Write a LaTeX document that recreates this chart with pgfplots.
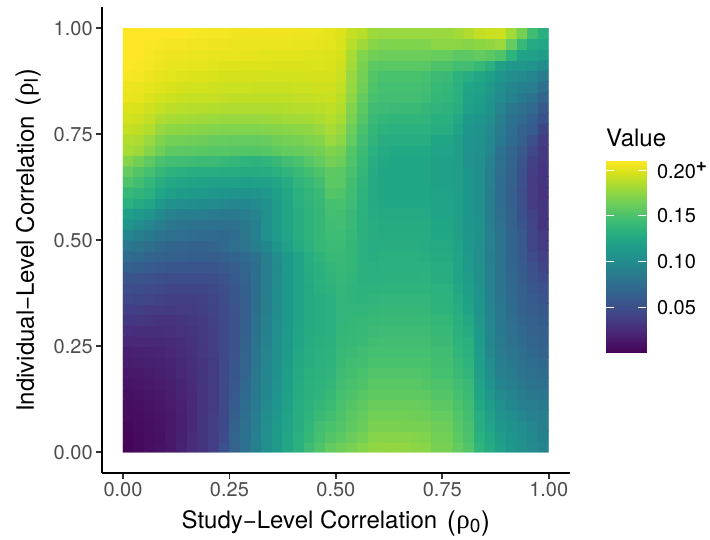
\documentclass[border=0pt]{standalone}
\usepackage{fontspec}
\setmainfont{TeX Gyre Heros}
\newfontfamily\grk{Liberation Serif}
\usepackage{pgfplots}
\usepackage{pgfplotstable}
\pgfplotsset{compat=1.18}
\definecolor{ticktxt}{HTML}{4D4D4D}
\definecolor{tickln}{HTML}{333333}
\newcommand{\fa}{\fontsize{20}{24}\selectfont}
\newcommand{\fb}{\fontsize{24}{28}\selectfont}
\newcommand{\bigp}[1]{{\fontsize{27}{27}\selectfont\raisebox{-1.5pt}{#1}}}
\newcommand{\rhosub}[1]{\kern0.6pt{\fontsize{27}{27}\selectfont\grk ρ}\raisebox{-4pt}{\fontsize{19}{19}\selectfont #1}\kern0.6pt}
% values in thousandths, read from the colours, row by row from the bottom
\pgfplotstableread[row sep=crcr]{
v\\
2\\ 5\\ 7\\ 10\\ 13\\ 19\\ 26\\ 31\\ 38\\ 52\\ 66\\ 79\\ 92\\ 105\\ 114\\ 125\\ 132\\ 144\\ 152\\ 160\\ 164\\ 167\\ 172\\ 175\\ 176\\ 176\\ 176\\ 174\\ 173\\ 167\\ 167\\ 160\\ 153\\ 137\\ 128\\ 118\\ 112\\ 106\\ 100\\ 95\\
3\\ 5\\ 7\\ 9\\ 13\\ 18\\ 26\\ 31\\ 38\\ 47\\ 67\\ 79\\ 91\\ 105\\ 114\\ 124\\ 132\\ 140\\ 148\\ 154\\ 157\\ 162\\ 166\\ 172\\ 172\\ 172\\ 172\\ 171\\ 170\\ 165\\ 165\\ 157\\ 151\\ 133\\ 126\\ 116\\ 110\\ 105\\ 99\\ 92\\
4\\ 6\\ 8\\ 10\\ 14\\ 18\\ 25\\ 31\\ 38\\ 46\\ 65\\ 78\\ 90\\ 103\\ 113\\ 122\\ 131\\ 138\\ 146\\ 150\\ 153\\ 158\\ 162\\ 168\\ 168\\ 168\\ 167\\ 167\\ 167\\ 163\\ 163\\ 155\\ 149\\ 131\\ 122\\ 112\\ 106\\ 102\\ 96\\ 90\\
6\\ 7\\ 9\\ 11\\ 14\\ 18\\ 25\\ 31\\ 38\\ 46\\ 62\\ 76\\ 88\\ 102\\ 112\\ 122\\ 131\\ 136\\ 142\\ 146\\ 151\\ 156\\ 160\\ 165\\ 165\\ 165\\ 165\\ 164\\ 164\\ 160\\ 160\\ 153\\ 147\\ 130\\ 120\\ 108\\ 102\\ 96\\ 92\\ 88\\
7\\ 8\\ 10\\ 12\\ 15\\ 19\\ 25\\ 31\\ 37\\ 46\\ 60\\ 74\\ 86\\ 100\\ 110\\ 120\\ 130\\ 135\\ 139\\ 143\\ 150\\ 154\\ 158\\ 162\\ 162\\ 162\\ 162\\ 162\\ 161\\ 157\\ 157\\ 151\\ 145\\ 126\\ 116\\ 104\\ 98\\ 92\\ 88\\ 85\\
9\\ 10\\ 12\\ 13\\ 16\\ 20\\ 25\\ 31\\ 37\\ 46\\ 58\\ 72\\ 85\\ 98\\ 109\\ 119\\ 129\\ 134\\ 137\\ 141\\ 148\\ 151\\ 155\\ 158\\ 158\\ 158\\ 158\\ 158\\ 158\\ 154\\ 154\\ 148\\ 143\\ 124\\ 112\\ 100\\ 94\\ 87\\ 84\\ 82\\
11\\ 12\\ 13\\ 15\\ 17\\ 21\\ 26\\ 31\\ 37\\ 46\\ 57\\ 70\\ 84\\ 97\\ 108\\ 118\\ 128\\ 133\\ 136\\ 139\\ 146\\ 149\\ 152\\ 156\\ 156\\ 156\\ 156\\ 156\\ 154\\ 151\\ 151\\ 146\\ 142\\ 122\\ 108\\ 95\\ 90\\ 84\\ 80\\ 78\\
13\\ 14\\ 15\\ 17\\ 19\\ 23\\ 27\\ 31\\ 37\\ 46\\ 56\\ 68\\ 83\\ 96\\ 107\\ 117\\ 127\\ 132\\ 135\\ 137\\ 144\\ 147\\ 150\\ 153\\ 153\\ 153\\ 153\\ 153\\ 152\\ 148\\ 148\\ 143\\ 138\\ 120\\ 105\\ 91\\ 87\\ 80\\ 77\\ 74\\
16\\ 17\\ 18\\ 19\\ 21\\ 24\\ 28\\ 32\\ 37\\ 46\\ 55\\ 67\\ 82\\ 95\\ 106\\ 116\\ 126\\ 131\\ 134\\ 136\\ 142\\ 145\\ 147\\ 150\\ 150\\ 150\\ 150\\ 150\\ 150\\ 147\\ 147\\ 141\\ 136\\ 118\\ 102\\ 89\\ 84\\ 78\\ 74\\ 70\\
18\\ 19\\ 20\\ 21\\ 23\\ 26\\ 29\\ 33\\ 38\\ 46\\ 54\\ 66\\ 81\\ 94\\ 105\\ 115\\ 125\\ 130\\ 133\\ 135\\ 141\\ 143\\ 145\\ 148\\ 148\\ 148\\ 148\\ 148\\ 148\\ 145\\ 145\\ 138\\ 134\\ 116\\ 99\\ 87\\ 82\\ 75\\ 71\\ 66\\
23\\ 23\\ 23\\ 24\\ 25\\ 27\\ 30\\ 34\\ 38\\ 46\\ 54\\ 65\\ 80\\ 93\\ 104\\ 114\\ 124\\ 129\\ 132\\ 134\\ 140\\ 141\\ 143\\ 145\\ 146\\ 146\\ 146\\ 146\\ 146\\ 143\\ 143\\ 136\\ 132\\ 115\\ 98\\ 86\\ 80\\ 73\\ 68\\ 64\\
28\\ 27\\ 27\\ 27\\ 28\\ 30\\ 32\\ 35\\ 39\\ 46\\ 54\\ 64\\ 79\\ 92\\ 103\\ 113\\ 123\\ 128\\ 131\\ 133\\ 139\\ 140\\ 141\\ 143\\ 144\\ 144\\ 144\\ 144\\ 144\\ 141\\ 141\\ 134\\ 129\\ 113\\ 97\\ 85\\ 78\\ 70\\ 66\\ 63\\
34\\ 33\\ 32\\ 30\\ 30\\ 31\\ 34\\ 37\\ 41\\ 47\\ 54\\ 63\\ 78\\ 91\\ 102\\ 113\\ 122\\ 127\\ 131\\ 133\\ 138\\ 139\\ 140\\ 141\\ 142\\ 142\\ 142\\ 142\\ 142\\ 139\\ 139\\ 132\\ 126\\ 112\\ 96\\ 84\\ 76\\ 68\\ 64\\ 60\\
39\\ 38\\ 37\\ 36\\ 35\\ 36\\ 37\\ 39\\ 42\\ 47\\ 54\\ 63\\ 77\\ 90\\ 102\\ 113\\ 122\\ 127\\ 131\\ 133\\ 138\\ 138\\ 138\\ 139\\ 140\\ 140\\ 140\\ 140\\ 140\\ 136\\ 136\\ 130\\ 122\\ 110\\ 95\\ 83\\ 74\\ 66\\ 62\\ 58\\
45\\ 44\\ 43\\ 41\\ 39\\ 39\\ 39\\ 41\\ 44\\ 49\\ 55\\ 63\\ 76\\ 90\\ 102\\ 113\\ 122\\ 127\\ 131\\ 133\\ 138\\ 137\\ 136\\ 137\\ 138\\ 138\\ 138\\ 138\\ 138\\ 135\\ 135\\ 128\\ 120\\ 109\\ 93\\ 82\\ 73\\ 64\\ 60\\ 55\\
50\\ 48\\ 47\\ 45\\ 43\\ 43\\ 43\\ 44\\ 46\\ 50\\ 56\\ 64\\ 75\\ 89\\ 102\\ 113\\ 122\\ 127\\ 132\\ 135\\ 139\\ 137\\ 135\\ 135\\ 136\\ 136\\ 136\\ 136\\ 136\\ 133\\ 133\\ 126\\ 118\\ 108\\ 92\\ 80\\ 71\\ 63\\ 57\\ 51\\
56\\ 54\\ 52\\ 50\\ 48\\ 48\\ 48\\ 48\\ 50\\ 54\\ 59\\ 65\\ 75\\ 88\\ 102\\ 113\\ 122\\ 128\\ 133\\ 137\\ 140\\ 138\\ 134\\ 133\\ 134\\ 134\\ 134\\ 134\\ 135\\ 131\\ 131\\ 124\\ 116\\ 106\\ 92\\ 80\\ 70\\ 62\\ 54\\ 47\\
64\\ 62\\ 60\\ 58\\ 56\\ 56\\ 55\\ 55\\ 55\\ 58\\ 62\\ 68\\ 76\\ 88\\ 101\\ 113\\ 122\\ 129\\ 134\\ 139\\ 141\\ 139\\ 134\\ 132\\ 133\\ 133\\ 133\\ 133\\ 133\\ 130\\ 130\\ 123\\ 114\\ 106\\ 91\\ 80\\ 69\\ 60\\ 51\\ 43\\
72\\ 70\\ 68\\ 66\\ 64\\ 63\\ 62\\ 62\\ 62\\ 64\\ 68\\ 72\\ 79\\ 90\\ 102\\ 113\\ 122\\ 130\\ 136\\ 141\\ 142\\ 139\\ 133\\ 131\\ 132\\ 132\\ 132\\ 132\\ 131\\ 128\\ 128\\ 122\\ 113\\ 105\\ 90\\ 80\\ 68\\ 59\\ 47\\ 40\\
84\\ 80\\ 76\\ 70\\ 68\\ 67\\ 66\\ 66\\ 67\\ 70\\ 76\\ 82\\ 90\\ 98\\ 110\\ 120\\ 128\\ 134\\ 140\\ 143\\ 143\\ 139\\ 133\\ 130\\ 131\\ 131\\ 131\\ 131\\ 129\\ 127\\ 127\\ 121\\ 112\\ 105\\ 91\\ 80\\ 68\\ 58\\ 44\\ 37\\
96\\ 90\\ 85\\ 80\\ 77\\ 75\\ 74\\ 73\\ 72\\ 71\\ 74\\ 83\\ 92\\ 104\\ 115\\ 122\\ 130\\ 136\\ 140\\ 144\\ 144\\ 140\\ 134\\ 131\\ 129\\ 129\\ 129\\ 129\\ 129\\ 125\\ 125\\ 119\\ 111\\ 106\\ 91\\ 80\\ 68\\ 58\\ 44\\ 36\\
110\\ 102\\ 96\\ 88\\ 83\\ 80\\ 79\\ 78\\ 78\\ 78\\ 78\\ 85\\ 92\\ 105\\ 115\\ 124\\ 131\\ 136\\ 140\\ 145\\ 146\\ 142\\ 134\\ 130\\ 128\\ 128\\ 128\\ 128\\ 128\\ 124\\ 124\\ 118\\ 110\\ 106\\ 90\\ 78\\ 66\\ 56\\ 42\\ 32\\
120\\ 114\\ 109\\ 100\\ 93\\ 90\\ 89\\ 88\\ 87\\ 86\\ 86\\ 88\\ 94\\ 105\\ 115\\ 124\\ 131\\ 136\\ 140\\ 146\\ 147\\ 142\\ 134\\ 129\\ 127\\ 127\\ 127\\ 127\\ 127\\ 122\\ 122\\ 117\\ 110\\ 105\\ 90\\ 76\\ 65\\ 52\\ 41\\ 31\\
133\\ 127\\ 123\\ 113\\ 106\\ 103\\ 102\\ 101\\ 100\\ 99\\ 97\\ 97\\ 100\\ 106\\ 115\\ 124\\ 132\\ 137\\ 141\\ 148\\ 149\\ 144\\ 135\\ 127\\ 125\\ 125\\ 125\\ 125\\ 125\\ 122\\ 122\\ 117\\ 110\\ 104\\ 89\\ 74\\ 63\\ 50\\ 36\\ 31\\
141\\ 137\\ 133\\ 124\\ 118\\ 115\\ 114\\ 113\\ 112\\ 110\\ 108\\ 107\\ 108\\ 112\\ 118\\ 125\\ 133\\ 138\\ 142\\ 154\\ 152\\ 145\\ 136\\ 127\\ 124\\ 124\\ 124\\ 124\\ 124\\ 121\\ 121\\ 117\\ 110\\ 104\\ 90\\ 74\\ 63\\ 50\\ 36\\ 30\\
152\\ 146\\ 139\\ 131\\ 126\\ 123\\ 122\\ 121\\ 120\\ 119\\ 119\\ 118\\ 119\\ 120\\ 124\\ 129\\ 137\\ 141\\ 146\\ 157\\ 156\\ 147\\ 137\\ 127\\ 124\\ 124\\ 124\\ 124\\ 124\\ 120\\ 120\\ 117\\ 110\\ 104\\ 91\\ 74\\ 65\\ 51\\ 36\\ 31\\
160\\ 154\\ 148\\ 140\\ 135\\ 132\\ 131\\ 130\\ 130\\ 129\\ 129\\ 128\\ 128\\ 129\\ 132\\ 137\\ 142\\ 147\\ 152\\ 158\\ 157\\ 149\\ 139\\ 128\\ 124\\ 124\\ 124\\ 124\\ 124\\ 120\\ 120\\ 117\\ 110\\ 104\\ 91\\ 76\\ 66\\ 53\\ 38\\ 32\\
172\\ 165\\ 158\\ 150\\ 146\\ 145\\ 144\\ 143\\ 143\\ 141\\ 139\\ 136\\ 135\\ 137\\ 141\\ 146\\ 150\\ 155\\ 160\\ 166\\ 163\\ 152\\ 141\\ 131\\ 126\\ 124\\ 124\\ 124\\ 124\\ 120\\ 120\\ 117\\ 108\\ 105\\ 93\\ 77\\ 68\\ 55\\ 40\\ 33\\
183\\ 180\\ 172\\ 164\\ 158\\ 157\\ 157\\ 156\\ 155\\ 155\\ 154\\ 154\\ 154\\ 155\\ 158\\ 160\\ 161\\ 163\\ 166\\ 170\\ 167\\ 154\\ 143\\ 133\\ 128\\ 126\\ 126\\ 126\\ 126\\ 122\\ 122\\ 118\\ 108\\ 106\\ 96\\ 79\\ 69\\ 58\\ 45\\ 35\\
186\\ 184\\ 178\\ 170\\ 166\\ 165\\ 164\\ 163\\ 161\\ 161\\ 160\\ 160\\ 160\\ 161\\ 164\\ 166\\ 167\\ 169\\ 171\\ 178\\ 174\\ 160\\ 146\\ 137\\ 131\\ 130\\ 130\\ 130\\ 130\\ 124\\ 124\\ 118\\ 108\\ 106\\ 98\\ 85\\ 73\\ 64\\ 50\\ 38\\
192\\ 190\\ 186\\ 178\\ 175\\ 174\\ 173\\ 172\\ 171\\ 170\\ 170\\ 170\\ 170\\ 171\\ 172\\ 173\\ 174\\ 175\\ 178\\ 183\\ 178\\ 163\\ 149\\ 139\\ 135\\ 133\\ 133\\ 133\\ 133\\ 130\\ 130\\ 122\\ 110\\ 108\\ 100\\ 87\\ 75\\ 66\\ 60\\ 44\\
196\\ 195\\ 191\\ 185\\ 183\\ 182\\ 181\\ 180\\ 179\\ 178\\ 178\\ 178\\ 178\\ 179\\ 180\\ 181\\ 181\\ 182\\ 184\\ 187\\ 183\\ 168\\ 154\\ 143\\ 139\\ 138\\ 138\\ 138\\ 137\\ 132\\ 132\\ 126\\ 114\\ 110\\ 104\\ 90\\ 79\\ 73\\ 64\\ 53\\
199\\ 198\\ 195\\ 192\\ 189\\ 188\\ 187\\ 187\\ 186\\ 185\\ 185\\ 185\\ 185\\ 185\\ 185\\ 186\\ 187\\ 187\\ 188\\ 190\\ 186\\ 170\\ 157\\ 145\\ 144\\ 143\\ 142\\ 142\\ 139\\ 137\\ 135\\ 131\\ 119\\ 115\\ 107\\ 94\\ 84\\ 78\\ 72\\ 58\\
203\\ 202\\ 199\\ 196\\ 194\\ 193\\ 192\\ 192\\ 192\\ 191\\ 190\\ 190\\ 190\\ 190\\ 190\\ 190\\ 191\\ 191\\ 192\\ 193\\ 188\\ 175\\ 160\\ 149\\ 146\\ 146\\ 146\\ 146\\ 144\\ 139\\ 138\\ 132\\ 121\\ 118\\ 110\\ 100\\ 93\\ 85\\ 79\\ 68\\
205\\ 204\\ 202\\ 200\\ 198\\ 197\\ 196\\ 196\\ 195\\ 194\\ 194\\ 194\\ 193\\ 193\\ 193\\ 193\\ 194\\ 194\\ 195\\ 195\\ 191\\ 177\\ 164\\ 152\\ 148\\ 148\\ 148\\ 148\\ 146\\ 141\\ 139\\ 133\\ 124\\ 121\\ 114\\ 103\\ 97\\ 92\\ 88\\ 78\\
208\\ 207\\ 205\\ 202\\ 201\\ 200\\ 199\\ 199\\ 198\\ 197\\ 197\\ 197\\ 197\\ 196\\ 196\\ 196\\ 196\\ 197\\ 197\\ 197\\ 193\\ 178\\ 166\\ 154\\ 150\\ 150\\ 150\\ 150\\ 148\\ 143\\ 142\\ 135\\ 130\\ 125\\ 118\\ 109\\ 103\\ 100\\ 95\\ 87\\
210\\ 209\\ 207\\ 205\\ 203\\ 203\\ 202\\ 202\\ 201\\ 200\\ 200\\ 199\\ 199\\ 199\\ 198\\ 198\\ 198\\ 198\\ 199\\ 198\\ 195\\ 181\\ 168\\ 157\\ 156\\ 156\\ 156\\ 156\\ 156\\ 151\\ 151\\ 146\\ 146\\ 141\\ 134\\ 120\\ 112\\ 111\\ 108\\ 101\\
210\\ 210\\ 208\\ 206\\ 205\\ 205\\ 204\\ 204\\ 203\\ 203\\ 203\\ 202\\ 202\\ 201\\ 201\\ 201\\ 201\\ 200\\ 200\\ 199\\ 197\\ 183\\ 170\\ 165\\ 163\\ 163\\ 163\\ 163\\ 163\\ 161\\ 161\\ 157\\ 157\\ 160\\ 157\\ 152\\ 136\\ 121\\ 120\\ 116\\
210\\ 210\\ 209\\ 208\\ 207\\ 207\\ 206\\ 206\\ 205\\ 205\\ 204\\ 204\\ 204\\ 204\\ 204\\ 204\\ 203\\ 203\\ 202\\ 201\\ 198\\ 188\\ 180\\ 173\\ 170\\ 170\\ 170\\ 170\\ 170\\ 174\\ 174\\ 174\\ 172\\ 174\\ 176\\ 178\\ 160\\ 141\\ 127\\ 125\\
210\\ 210\\ 210\\ 210\\ 210\\ 210\\ 209\\ 208\\ 207\\ 207\\ 206\\ 206\\ 206\\ 206\\ 206\\ 206\\ 205\\ 205\\ 204\\ 202\\ 199\\ 192\\ 188\\ 180\\ 178\\ 178\\ 178\\ 178\\ 178\\ 178\\ 178\\ 181\\ 185\\ 191\\ 193\\ 194\\ 181\\ 167\\ 145\\ 132\\
}\cells
\begin{document}
\begin{tikzpicture}
\useasboundingbox (0,0) rectangle (710pt,540pt);
\begin{axis}[
  at={(101.7pt,66.5pt)}, anchor=south west,
  scale only axis, width=468.3pt, height=466.5pt,
  xmin=-0.05, xmax=1.05, ymin=-0.05, ymax=1.05,
  axis x line*=bottom, axis y line*=left,
  axis line style={black,line width=2pt,-},
  tick align=outside, major tick length=5.5pt,
  tick style={tickln,line width=1.6pt},
  xtick={0,0.25,0.5,0.75,1}, ytick={0,0.25,0.5,0.75,1},
  xticklabels={0.00,0.25,0.50,0.75,1.00},
  yticklabels={0.00,0.25,0.50,0.75,1.00},
  /pgf/number format/assume math mode=true,
  tick label style={font=\fa,text=ticktxt},
  xlabel={Study−Level Correlation\kern3pt\ \bigp{(}\rhosub{0}\bigp{)}},
  ylabel={Individual−Level Correlation\kern3pt\ \bigp{(}\rhosub{I}\bigp{)}},
  label style={font=\fb,text=black},
  xlabel style={at={(axis description cs:0.5,0)},anchor=north,yshift=-33.5pt},
  ylabel style={at={(axis description cs:0,0.5)},anchor=south,yshift=57pt},
  colormap/viridis,
  point meta min=0, point meta max=210,
]
% backing layer, a hair inset, so that no hairline gap between cells shows white
\addplot[matrix plot*, shader=faceted, faceted color=mapped color, line width=0.3pt, mesh/cols=40, point meta=explicit]
table[x index=0, y index=0, x expr={0.004+0.992*(mod(\coordindex,40)+0.5)/40}, y expr={0.004+0.992*(floor((\coordindex+0.5)/40)+0.5)/40}, meta index=0] {\cells};
\addplot[matrix plot*, shader=faceted, faceted color=mapped color, line width=0.3pt, mesh/cols=40, point meta=explicit]
table[x index=0, y index=0, x expr={(mod(\coordindex,40)+0.5)/40}, y expr={(floor((\coordindex+0.5)/40)+0.5)/40}, meta index=0] {\cells};
\end{axis}
\begin{axis}[
  at={(606pt,187pt)}, anchor=south west,
  scale only axis, width=40pt, height=192pt,
  xmin=0, xmax=1, ymin=0, ymax=210,
  axis on top,
  axis line style={draw=none},
  xtick=\empty,
  ytick={50,100,150,200},
  yticklabels={0.05,0.10,0.15,0.20\raisebox{7pt}{\fontsize{19}{19}\selectfont\bfseries +}},
  ytick pos=both, yticklabel pos=right,
  tick align=inside, major tick length=8pt,
  tick style={white,line width=1pt},
  /pgf/number format/assume math mode=true,
  yticklabel style={font=\fa,text=black,anchor=west,xshift=7.5pt},
  colormap/viridis, point meta min=0, point meta max=210,
]
\addplot[surf, shader=interp, mesh/cols=2, point meta=y] coordinates {
(0,0)(1,0)
(0,210)(1,210)
};
\end{axis}
\node[anchor=west,inner sep=0pt,font=\fb] at (606pt,402pt) {Value};
\end{tikzpicture}
\end{document}
